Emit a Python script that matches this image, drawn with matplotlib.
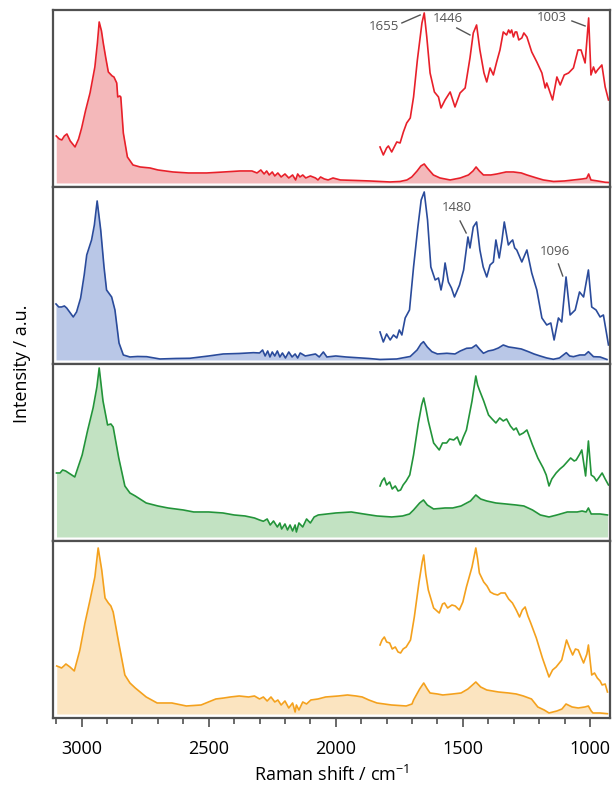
import matplotlib
matplotlib.use("Agg")
import matplotlib.pyplot as plt
from matplotlib.ticker import MultipleLocator

plt.rcParams["font.family"] = ["Open Sans", "DejaVu Sans"]
plt.rcParams["mathtext.fontset"] = "custom"
plt.rcParams["mathtext.rm"] = "Open Sans"

# full spectra (wavenumber, intensity)
red_full = [(3100,47),(3088,44),(3078,43),(3068,47),(3058,49),(3045,42),(3026,36),(3012,44),(3000,55),
            (2985,72),(2967,90),(2948,116),(2938,140),(2931,161),(2922,152),(2915,140),(2905,125),(2895,111),
            (2880,107),(2873,106),(2862,100),(2858,86),(2850,87),(2846,86),(2836,50),(2820,26),(2798,18),
            (2770,16),(2731,15),(2700,13),(2641,11),(2580,10),(2508,10),(2440,11),(2377,12),(2330,12),(2310,10),
            (2295,13),(2282,9),(2272,12),(2262,8),(2250,11),(2240,7),(2228,10),(2215,6),(2200,9),(2185,5),
            (2170,8),(2158,3),(2150,9),(2141,6),(2130,8),(2118,5),(2100,7),(2080,5),(2070,3),(2060,6),(2045,4),
            (2030,3),(2011,5),(1982,3),(1920,2.5),(1866,2),(1787,1),(1747,1.5),(1720,3),(1701,6),(1680,12),
            (1665,17),(1652,19),(1640,15),(1616,8),(1590,5),(1550,3),(1510,5),(1478,8),(1460,12),(1448,16),
            (1435,12),(1419,8),(1390,8),(1366,9),(1330,11),(1301,11),(1270,10),(1248,8),(1210,5),(1183,3),
            (1143,1.5),(1100,2),(1065,3),(1030,4),(1013,4.7),(1005,9),(996,3),(970,2),(940,0.7),(925,0.5)]
blue_full = [(3101,56),(3090,53),(3079,53),(3068,54),(3059,52),(3033,43),(3020,48),(3004,62),(2990,85),
             (2980,105),(2961,120),(2950,135),(2939,159),(2925,130),(2912,93),(2902,70),(2882,63),(2869,50),
             (2853,17),(2836,5),(2810,3),(2780,3.5),(2744,3.3),(2692,1),(2630,1.5),(2574,1.7),(2500,4),(2443,6),
             (2380,6.5),(2324,7.3),(2300,7),(2288,10),(2278,4),(2268,9),(2259,3),(2250,8),(2240,4),(2230,9),
             (2220,3),(2210,7),(2198,2),(2185,8),(2172,3),(2160,6),(2150,2),(2140,7),(2120,4),(2100,5),(2080,6),
             (2065,3),(2049,8),(2035,3),(2000,4),(1960,3),(1918,2.3),(1870,1.5),(1826,0.5),(1760,1),(1707,3.5),
             (1680,10),(1665,16),(1655,18.3),(1640,13),(1622,8.3),(1600,6),(1563,6.7),(1531,6),(1510,9),
             (1485,11.7),(1465,12),(1448,15),(1435,11),(1419,6.7),(1400,9),(1380,10),(1360,12),(1341,15),
             (1320,13),(1301,12.3),(1270,11),(1242,8.3),(1220,6),(1196,4),(1170,2),(1144,0.7),(1120,2),(1093,7.3),
             (1080,4),(1065,3.3),(1040,5),(1020,5),(1006,8.3),(986,3.3),(960,3),(933,0.5)]
green_full = [(3099,64),(3085,64),(3075,67),(3063,66),(3045,63),(3027,60),(2998,82),(2977,106),(2955,129),
              (2940,150),(2931,169),(2916,136),(2898,112),(2885,113),(2876,110),(2854,79),(2830,51),(2810,44),
              (2789,41),(2746,34),(2700,31),(2660,29),(2600,27),(2559,25),(2500,25),(2444,24),(2400,22),(2357,21),
              (2320,19),(2300,17),(2285,15.7),(2270,18),(2258,12),(2245,16),(2230,10),(2220,14),(2213,8),(2200,13),
              (2190,7),(2180,12),(2170,6),(2160,12),(2155,5),(2145,14),(2130,10),(2115,18),(2100,14),(2085,20),
              (2069,22),(2000,24),(1939,25),(1890,23),(1838,21),(1780,20),(1737,21),(1710,23),(1694,27),(1670,34),
              (1655,37),(1640,32),(1615,28),(1570,29),(1540,29),(1507,31),(1470,36),(1449,42),(1430,38),(1406,36),
              (1370,34),(1330,33),(1291,32),(1260,31),(1226,27),(1195,22),(1161,20),(1130,22),(1089,25),(1050,25),
              (1031,26),(1015,25),(1006,29),(995,23),(960,23),(931,22)]
orange_full = [(3098,48),(3088,47),(3079,46),(3070,48),(3062,50),(3046,47),(3029,43),(3007,64),(2987,91),
               (2967,114),(2948,137),(2935,166),(2921,144),(2908,116),(2895,111),(2885,108),(2876,102),(2854,71),
               (2830,39),(2810,31),(2789,26),(2746,17),(2703,11),(2645,11),(2588,8),(2530,9),(2472,15),(2440,16),
               (2415,17),(2380,18),(2343,17),(2320,18),(2300,15),(2285,17),(2270,13),(2255,17),(2240,12),(2228,14),
               (2215,9),(2200,13),(2185,6),(2170,11),(2160,2),(2155,9),(2145,4),(2130,12),(2115,10),(2098,14),
               (2070,15),(2040,17),(1990,18),(1954,19),(1920,18),(1896,17),(1870,14),(1838,11),(1781,9),(1723,8),
               (1700,10),(1694,14),(1670,25),(1654,31),(1640,25),(1629,21),(1600,20),(1579,19),(1540,20),(1507,21),
               (1480,25),(1449,32),(1430,27),(1406,24),(1360,22),(1320,21),(1290,20),(1262,18),(1230,15),(1205,7),
               (1180,4),(1161,1),(1130,3),(1110,5),(1094,10),(1070,7),(1046,6),(1020,7),(1006,8),(995,3),(988,1),
               (960,1),(931,0.3)]

# expanded fingerprint region
red_zoom = [(1826,36),(1813,28),(1800,35),(1793,37),(1780,31),(1760,41),(1747,40),(1734,51),(1721,60),(1707,65),
            (1694,86),(1679,123),(1661,160),(1652,170),(1642,146),(1629,110),(1612,91),(1596,86),(1586,75),
            (1570,83),(1560,87),(1550,91),(1531,76),(1511,90),(1491,95),(1472,125),(1459,150),(1446,158),
            (1433,133),(1417,110),(1406,101),(1393,115),(1380,108),(1367,121),(1354,133),(1341,151),(1328,148),
            (1320,153),(1314,150),(1308,153),(1301,146),(1294,151),(1288,151),(1280,143),(1268,145),(1260,150),
            (1248,146),(1229,131),(1209,121),(1189,110),(1176,95),(1170,100),(1163,95),(1147,83),(1130,106),
            (1117,98),(1101,108),(1084,110),(1065,115),(1047,133),(1035,133),(1019,120),(1005,165),(996,108),
            (986,116),(978,110),(970,113),(953,118),(940,96),(927,83)]
blue_zoom = [(1826,28),(1813,18),(1800,26),(1786,20),(1773,25),(1760,22),(1750,30),(1740,25),(1727,42),(1710,50),
             (1694,93),(1677,133),(1664,160),(1652,168),(1639,140),(1626,93),(1609,80),(1596,82),(1586,70),
             (1578,80),(1570,97),(1557,78),(1545,72),(1533,63),(1513,75),(1497,90),(1480,123),(1472,112),
             (1459,133),(1446,138),(1433,110),(1420,93),(1406,83),(1393,95),(1380,98),(1370,120),(1357,102),
             (1347,118),(1337,138),(1321,115),(1312,118),(1304,120),(1296,112),(1288,110),(1268,98),(1258,104),
             (1248,110),(1229,87),(1209,70),(1189,42),(1170,35),(1154,37),(1141,20),(1124,42),(1111,38),(1094,83),
             (1078,45),(1058,50),(1041,68),(1025,63),(1006,90),(993,53),(976,50),(960,43),(947,45),(927,15)]
green_zoom = [(1826,51),(1818,56),(1809,59),(1800,52),(1788,55),(1778,48),(1766,51),(1755,46),(1745,47),
              (1735,52),(1723,56),(1709,62),(1694,82),(1675,114),(1662,132),(1654,139),(1645,128),(1636,116),
              (1615,94),(1593,87),(1580,94),(1564,94),(1552,98),(1536,97),(1522,100),(1510,92),(1498,100),
              (1486,107),(1464,136),(1449,161),(1442,152),(1435,147),(1418,136),(1399,122),(1385,118),(1370,114),
              (1355,119),(1341,116),(1328,118),(1313,111),(1300,107),(1290,109),(1277,102),(1262,104),(1248,107),
              (1226,92),(1205,79),(1184,69),(1172,62),(1161,51),(1150,58),(1133,64),(1118,68),(1104,71),(1090,75),
              (1076,79),(1062,76),(1054,77),(1040,83),(1032,87),(1017,61),(1006,96),(995,62),(984,60),(974,56),
              (963,60),(952,64),(940,58),(927,52)]
orange_zoom = [(1826,69),(1818,74),(1809,77),(1800,72),(1788,71),(1778,65),(1766,67),(1755,62),(1745,61),
               (1735,65),(1723,67),(1706,74),(1691,97),(1673,131),(1660,152),(1654,159),(1646,140),(1636,124),
               (1615,106),(1593,101),(1580,110),(1572,111),(1560,106),(1543,109),(1530,108),(1514,104),(1500,112),
               (1486,127),(1464,147),(1449,166),(1442,155),(1435,141),(1418,132),(1405,128),(1392,122),(1378,120),
               (1363,119),(1350,121),(1334,121),(1320,115),(1305,111),(1290,104),(1277,97),(1266,104),(1255,107),
               (1244,98),(1233,91),(1211,76),(1187,56),(1161,37),(1147,44),(1133,47),(1111,54),(1092,74),(1080,66),
               (1068,59),(1057,65),(1046,64),(1035,57),(1025,51),(1012,60),(1006,69),(993,39),(982,41),(971,36),
               (960,33),(952,29),(940,30),(931,22)]

# peak labels: panel index, label, text position, line start, line end
peak_labels = [
    (0, "1655", (1810, 156), (1740, 160), (1668, 168)),
    (0, "1446", (1558, 164), (1524, 155), (1472, 148)),
    (0, "1003", (1150, 165), (1071, 162), (1019, 157)),
    (1, "1480", (1524, 152), (1511, 139), (1487, 127)),
    (1, "1096", (1139, 108), (1124, 96), (1107, 84)),
]

spectra = [(red_full, red_zoom), (blue_full, blue_zoom), (green_full, green_zoom), (orange_full, orange_zoom)]
line_colors = ["#e8202a", "#2a4b9b", "#23943a", "#f4a11d"]
fill_colors = ["#f4b8ba", "#b9c7e7", "#c2e2c2", "#fbe4c0"]

fig = plt.figure(figsize=(6.14, 7.91), dpi=100)
gs = fig.add_gridspec(4, 1, left=0.0858, right=0.9935, top=0.9874, bottom=0.0923, hspace=0)

axes = []
for i, (full, zoom) in enumerate(spectra):
    ax = fig.add_subplot(gs[i], sharex=axes[0] if axes else None)
    axes.append(ax)
    fx, fy = zip(*full)
    zx, zy = zip(*zoom)
    ax.fill_between(fx, 0, fy, color=fill_colors[i], lw=0)
    ax.plot(fx, fy, color=line_colors[i], lw=1.2)
    ax.plot(zx, zy, color=line_colors[i], lw=1.2)
    ax.set_ylim(-4, 173)
    ax.set_yticks([])
    for s in ax.spines.values():
        s.set_color("#505050")
        s.set_linewidth(1.6)
    if i < 3:
        ax.tick_params(axis="x", which="both", bottom=False, labelbottom=False)

for idx, label, txt, p0, p1 in peak_labels:
    ax = axes[idx]
    ax.text(txt[0], txt[1], label, fontsize=9.5, color="#555555", ha="center", va="center")
    ax.plot([p0[0], p1[0]], [p0[1], p1[1]], color="#555555", lw=1.0)

ax = axes[-1]
ax.set_xlim(3114, 921)
ax.xaxis.set_major_locator(MultipleLocator(500))
ax.xaxis.set_minor_locator(MultipleLocator(100))
ax.tick_params(axis="x", which="major", direction="out", length=6.5, width=1.2, color="#505050",
               labelsize=13, pad=9)
ax.tick_params(axis="x", which="minor", direction="out", length=4, width=1.2, color="#505050")
ax.set_xlabel("Raman shift / cm$^{-1}$", fontsize=13, labelpad=5)

fig.text(0.036, 0.54, "Intensity / a.u.", rotation=90, fontsize=13, ha="center", va="center")

fig.savefig("out.png", dpi=100)
